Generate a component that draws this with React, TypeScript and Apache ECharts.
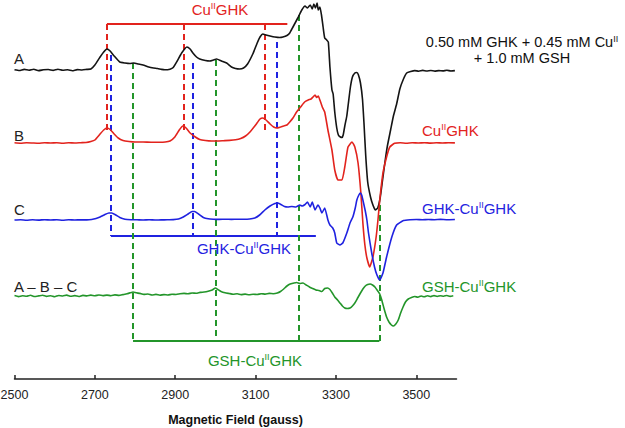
import React, { useEffect, useRef } from "react";
import * as echarts from "echarts";

// x-axis ticks (gauss)
const fieldTicks = [2500, 2700, 2900, 3100, 3300, 3500];

// Spectrum A: 0.50 mM GHK + 0.45 mM Cu(II) + 1.0 mM GSH  [field (G), amplitude]
const traceA: [number, number][] = [
  [2500, 0.3], [2512, -0.5], [2524, 0.6], [2536, -0.2], [2548, 0.8], [2560, -0.6], [2572, 0.2], [2584, 0.5],
  [2596, -0.4], [2608, 0.7], [2620, -0.3], [2632, 0.2], [2644, -0.7], [2656, 0.4], [2668, 0.0], [2680, 0.6],
  [2690, 1], [2700, 5], [2713, 13], [2722, 18], [2730, 21], [2738, 19], [2748, 14], [2762, 8], [2775, 7],
  [2787, 6.5], [2797, 7], [2808, 6], [2820, 5], [2834, 3], [2846, 2], [2856, 1.5], [2866, 0.6], [2874, 0.2],
  [2887, 0.8], [2895, 2.5], [2905, 9], [2916, 17], [2929, 23], [2937, 21], [2944, 17], [2953, 13], [2961, 11],
  [2975, 9.5], [2986, 9], [2995, 10], [3003, 11], [3015, 9], [3028, 7], [3040, 3], [3050, 1.5], [3060, 1],
  [3070, 2], [3080, 6], [3093, 16], [3104, 27], [3111, 33], [3118, 36], [3126, 35], [3136, 34], [3148, 33],
  [3160, 32.5], [3168, 33], [3178, 34.5], [3185, 37], [3193, 43], [3205, 52], [3215, 60], [3223, 64],
  [3229, 62], [3236, 65], [3241, 61], [3245, 66], [3249, 62], [3253, 67], [3256, 60], [3260, 63], [3264, 55],
  [3268, 43], [3272, 32], [3277, 30], [3281, 28], [3285, 3], [3290, -20], [3293, -24], [3297, -42],
  [3302, -58], [3306, -65], [3311, -67], [3315, -67.5], [3318, -65], [3322, -56], [3327, -46], [3331, -33],
  [3336, -17], [3341, -7], [3347, -3], [3352, -2.5], [3356, -5], [3361, -13], [3366, -29], [3370, -55],
  [3374, -85], [3379, -112], [3386, -127], [3392, -135], [3398, -140], [3404, -138], [3410, -128],
  [3416, -110], [3422, -92], [3428, -76], [3436, -60], [3443, -46], [3451, -34], [3459, -19], [3468, -9],
  [3476, -3], [3486, -1.5], [3496, -0.6], [3506, -1.2], [3516, -0.4], [3526, -1.0], [3536, -0.5],
  [3546, -1.1], [3556, -0.6], [3566, -0.9], [3576, -0.3], [3586, -1.0], [3596, -0.6],
];

// Spectrum B: Cu(II)GHK
const traceB: [number, number][] = [
  [2500, 0.2], [2515, -0.2], [2530, 0.3], [2545, 0], [2560, -0.3], [2575, 0.2], [2590, 0], [2605, 0.3],
  [2620, -0.2], [2635, 0.2], [2650, 0], [2665, 0.3], [2678, 0.5], [2690, 1.5], [2700, 3], [2713, 9],
  [2722, 13], [2730, 15], [2738, 13.5], [2748, 9], [2758, 5], [2770, 2.5], [2785, 1.5], [2800, 1],
  [2820, 1], [2840, 0.8], [2860, 0.8], [2875, 1], [2887, 2], [2899, 6], [2910, 13], [2919, 17], [2927, 15],
  [2937, 10], [2950, 6], [2961, 3.5], [2975, 2.5], [2990, 2], [3005, 2], [3020, 2.3], [3035, 2.6],
  [3050, 3.2], [3063, 4.5], [3075, 7], [3086, 11], [3100, 18], [3111, 24], [3118, 25], [3126, 23],
  [3136, 19], [3145, 16], [3153, 15], [3162, 16], [3170, 17], [3178, 18], [3185, 21], [3193, 25],
  [3202, 31], [3212, 36], [3222, 41], [3231, 43], [3238, 44], [3243, 46], [3248, 48], [3252, 45.5],
  [3256, 47], [3260, 43], [3266, 36], [3272, 31], [3280, 13], [3290, -7], [3297, -27], [3305, -37],
  [3315, -37], [3322, -24], [3330, -4], [3340, 1], [3347, -4], [3355, -20], [3362, -50], [3367, -80],
  [3372, -102], [3377, -115], [3384, -124], [3392, -114], [3400, -94], [3405, -75], [3409, -57],
  [3417, -30], [3426, -14], [3434, -4], [3446, -0.3], [3460, 0.2], [3475, -0.2], [3490, 0.3],
  [3505, 0], [3520, 0.3], [3535, -0.1], [3550, 0.2], [3565, 0], [3580, 0.3], [3596, 0.1],
];

// Spectrum C: GHK-Cu(II)GHK
const traceC: [number, number][] = [
  [2500, 0], [2515, 0.3], [2530, -0.2], [2545, 0.2], [2560, -0.1], [2575, 0.3], [2590, 0], [2605, 0.2],
  [2620, -0.2], [2635, 0.2], [2650, 0], [2665, 0.2], [2680, 0.1], [2692, 0.5], [2703, 1.5], [2713, 3],
  [2725, 5.5], [2735, 7], [2742, 7], [2752, 5], [2762, 2.5], [2775, 0.8], [2790, 0.3], [2805, 0.2],
  [2820, 0], [2835, 0.2], [2850, 0], [2865, 0.1], [2880, 0.2], [2895, 0.4], [2908, 1], [2920, 3],
  [2932, 6], [2942, 8.5], [2948, 8.5], [2958, 6], [2970, 2.5], [2982, 1.2], [2995, 0.8], [3010, 0.6],
  [3025, 0.8], [3040, 0.6], [3055, 0.8], [3070, 0.8], [3085, 1], [3098, 2], [3110, 5], [3123, 10],
  [3136, 14], [3148, 16.5], [3155, 17], [3163, 15.5], [3172, 13.5], [3180, 13], [3190, 13.5], [3200, 13],
  [3210, 15], [3216, 14], [3223, 15.5], [3229, 18], [3236, 13], [3241, 18], [3248, 10], [3255, 15],
  [3260, 12], [3265, 7], [3272, 12], [3280, 0], [3285, -5], [3292, -8], [3297, -13], [3302, -23],
  [3310, -25], [3317, -23], [3327, -13], [3335, -3], [3342, 3], [3348, 12], [3352, 20], [3357, 25],
  [3361, 27], [3364, 25], [3367, 20], [3373, 9], [3377, 0], [3381, -13], [3389, -33], [3396, -47],
  [3402, -55], [3409, -60], [3417, -53], [3426, -37], [3439, -17], [3451, -5], [3468, -0.5], [3485, 0.3],
  [3500, 0.5], [3515, 0.2], [3530, 0.5], [3545, 0.3], [3560, 0.6], [3575, 0.3], [3596, 0.5],
];

// Difference spectrum A - B - C: GSH-Cu(II)GHK
const traceD: [number, number][] = [
  [2500, 0.4], [2510, -0.6], [2520, 0.3], [2530, -0.3], [2540, 0.7], [2550, -0.5], [2560, 0.1], [2570, 0.8],
  [2580, -0.4], [2590, 0.3], [2600, -0.7], [2610, 0.5], [2620, 0.0], [2630, 0.9], [2640, -0.3], [2650, 0.4],
  [2660, -0.5], [2670, 0.6], [2680, 0.1], [2690, 0.9], [2700, 0.2], [2710, 1.0], [2720, 0.4], [2730, 0.9],
  [2740, 0.3], [2750, 1.1], [2760, 0.6], [2770, 1.4], [2780, 2.2], [2788, 3.2], [2795, 4], [2803, 3.2],
  [2812, 2.6], [2822, 1.6], [2832, 2], [2842, 1], [2852, 1.6], [2862, 0.8], [2872, 1.4], [2882, 1],
  [2892, 1.8], [2902, 1.5], [2912, 2.2], [2922, 2.6], [2932, 2.2], [2942, 3], [2952, 2.7], [2962, 3.6],
  [2972, 4], [2982, 4.8], [2992, 6], [3000, 8], [3006, 6.5], [3014, 4.5], [3024, 3.2], [3034, 2.5],
  [3044, 1.8], [3054, 2.2], [3064, 1.4], [3074, 1.9], [3084, 1.2], [3094, 1.8], [3104, 1.5], [3114, 2.3],
  [3124, 1.9], [3134, 2.6], [3144, 2.3], [3154, 3], [3162, 4.5], [3170, 7], [3178, 10], [3186, 12],
  [3194, 12.8], [3202, 13.5], [3210, 12.5], [3218, 13], [3226, 11], [3234, 9], [3242, 7.5], [3250, 6],
  [3258, 5.5], [3265, 4.5], [3272, 7.5], [3279, 8], [3285, 6.5], [3291, 3], [3297, -1], [3304, -4],
  [3310, -7], [3316, -10], [3322, -12], [3328, -12.5], [3335, -12], [3341, -10], [3347, -7], [3354, -2],
  [3361, 3], [3367, 7], [3373, 10], [3379, 11.5], [3385, 12], [3391, 11], [3397, 9], [3404, 5], [3409, 2],
  [3414, -4], [3420, -13], [3426, -21], [3432, -26], [3438, -29], [3443, -30], [3449, -28], [3455, -24],
  [3461, -17], [3467, -11], [3473, -6], [3480, -3], [3488, -1.5], [3496, -0.5], [3504, -1.2], [3512, 0],
  [3520, -0.8], [3528, 0.2], [3536, -0.6], [3544, 0.4], [3552, -0.5], [3560, 0.3], [3568, -0.2],
  [3576, 0.5], [3584, -0.4], [3592, 0.2],
];

// vertical offsets of the stacked spectra
const baselineA = 309;
const baselineB = 236;
const baselineC = 159;
const baselineD = 83;

// hyperfine line positions (gauss) and their marker levels
const redLines = [2730, 2921, 3122];
const redBracketEnd = 3179;
const redLevel = 355;
const redDashBottom = 249;

const blueLines = [2740, 2944, 3152];
const blueDashTops = [324, 316, 337];
const blueBracketEnd = 3250;
const blueLevel = 143;

const greenLines = [2795, 3000, 3207, 3408];
const greenDashTops = [316, 319, 364, 174];
const greenLevel = 38;

const BLACK = "#141414";
const RED = "#e2231d";
const BLUE = "#1f22e0";
const GREEN = "#23952a";
const FONT = "'Liberation Sans', Arial, sans-serif";

function shift(trace: [number, number][], base: number) {
  return trace.map(([g, a]) => [g, base + a]);
}

function verticals(fields: number[], tops: number[], bottoms: number[]) {
  return fields.map((g, i) => ({ coords: [[g, tops[i]], [g, bottoms[i]]] }));
}

export default function App() {
  const ref = useRef<HTMLDivElement>(null);

  useEffect(() => {
    if (!ref.current) return;
    const chart = echarts.init(ref.current, null, { renderer: "svg" });

    const spectrum = (name: string, data: number[][], color: string) => ({
      name,
      type: "line",
      data,
      showSymbol: false,
      smooth: 0.15,
      lineStyle: { color, width: 1.6 },
      z: 3,
    });

    const dashed = (data: any[], color: string) => ({
      type: "lines",
      coordinateSystem: "cartesian2d",
      polyline: false,
      data,
      lineStyle: { color, width: 2, type: [6, 4], opacity: 1 },
      z: 2,
    });
    const solid = (data: any[], color: string) => ({
      type: "lines",
      coordinateSystem: "cartesian2d",
      polyline: false,
      data,
      lineStyle: { color, width: 2, type: "solid", opacity: 1 },
      z: 2,
    });

    const supRich = (size: number) => ({
      s: { fontSize: Math.round(size * 0.6), fontFamily: FONT, padding: [0, 0, Math.round(size * 0.45), 0] },
    });

    const label = (x: number, y: number, text: string, color: string, align: string, size = 15) => ({
      type: "text",
      x,
      y,
      style: {
        text,
        fill: color,
        font: `${size}px ${FONT}`,
        fontSize: size,
        fontFamily: FONT,
        align,
        verticalAlign: "middle",
        rich: supRich(size),
      },
      z: 10,
    });

    chart.setOption({
      animation: false,
      grid: { left: 14.5, right: 168.5, top: 0, bottom: 49, containLabel: false, outerBoundsMode: "none" },
      xAxis: {
        type: "value",
        min: 2500,
        max: 3600,
        interval: 200,
        splitLine: { show: false },
        axisLine: { lineStyle: { color: "#222", width: 1.5 } },
        axisTick: { inside: true, length: 4, customValues: fieldTicks, lineStyle: { color: "#222", width: 1.5 } },
        axisLabel: {
          customValues: fieldTicks,
          formatter: (v: number) => String(v),
          color: "#222",
          fontSize: 12.5,
          fontFamily: FONT,
          margin: 9,
        },
        name: "Magnetic Field (gauss)",
        nameLocation: "middle",
        nameGap: 34,
        nameTextStyle: { fontWeight: "bold", fontSize: 12.5, color: "#111", fontFamily: FONT },
      },
      yAxis: { type: "value", min: 0, max: 379, show: false },
      series: [
        dashed(verticals(redLines, redLines.map(() => redLevel), redLines.map(() => redDashBottom)), RED),
        solid([{ coords: [[redLines[0], redLevel], [redBracketEnd, redLevel]] }], RED),
        dashed(verticals(blueLines, blueDashTops, blueLines.map(() => blueLevel)), BLUE),
        solid([{ coords: [[blueLines[0], blueLevel], [blueBracketEnd, blueLevel]] }], BLUE),
        dashed(verticals(greenLines, greenDashTops, greenLines.map(() => greenLevel)), GREEN),
        solid([{ coords: [[greenLines[0], greenLevel], [greenLines[3], greenLevel]] }], GREEN),
        spectrum("A", shift(traceA, baselineA), BLACK),
        spectrum("B", shift(traceB, baselineB), RED),
        spectrum("C", shift(traceC, baselineC), BLUE),
        spectrum("A – B – C", shift(traceD, baselineD), GREEN),
      ],
      graphic: [
        label(14, 58, "A", "#222", "left"),
        label(14, 135, "B", "#222", "left"),
        label(14, 209, "C", "#222", "left"),
        label(14, 286, "A – B – C", "#222", "left"),
        label(220, 9, "Cu{s|II}GHK", RED, "center"),
        label(244, 248, "GHK-Cu{s|II}GHK", BLUE, "center"),
        label(255, 360, "GSH-Cu{s|II}GHK", GREEN, "center"),
        label(422, 130, "Cu{s|II}GHK", RED, "left"),
        label(422, 208, "GHK-Cu{s|II}GHK", BLUE, "left"),
        label(422, 286, "GSH-Cu{s|II}GHK", GREEN, "left"),
        label(522, 42, "0.50 mM GHK + 0.45 mM Cu{s|II}", "#111", "center", 14.5),
        label(522, 58, "+ 1.0 mM GSH", "#111", "center", 14.5),
      ],
    });

    return () => chart.dispose();
  }, []);

  return (
    <div
      ref={ref}
      style={{ position: "fixed", left: 0, top: 0, width: 625, height: 428, background: "#fff" }}
    />
  );
}
